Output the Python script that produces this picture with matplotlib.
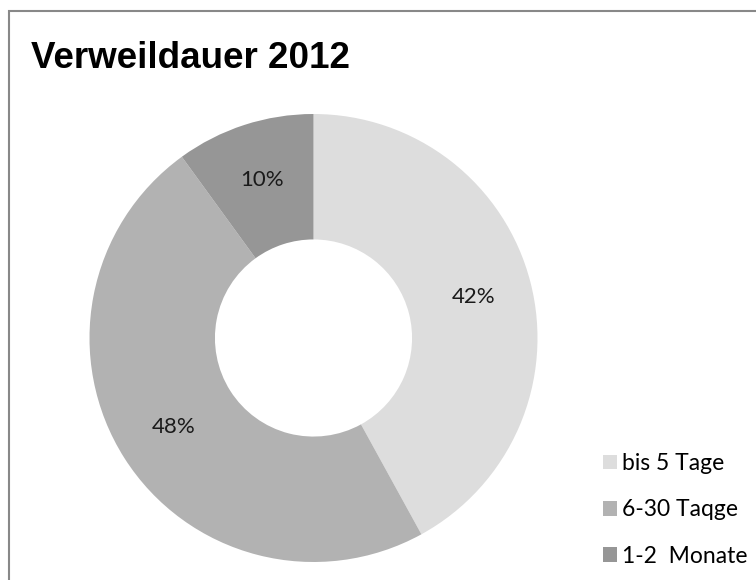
import matplotlib.pyplot as plt
from matplotlib.patches import Rectangle

# data
categories = ['bis 5 Tage', '6-30 Taqge', '1-2  Monate']
shares = [42, 48, 10]
colors = ['#dddddd', '#b2b2b2', '#969696']

fig = plt.figure(figsize=(7.56, 5.80), dpi=100)

# chart frame
fig.patches.append(Rectangle((9 / 756, -0.1), 1.1, 1 - 11 / 580 + 0.1, transform=fig.transFigure,
                             fill=False, edgecolor='#888888', linewidth=1.5))

# donut axes (center / radius in pixels)
cx, cy, R = 313.5 / 756, 1 - 338 / 580, 224
ax = fig.add_axes([cx - R / 756, cy - R / 580, 2 * R / 756, 2 * R / 580])
wedges, texts, autotexts = ax.pie(shares, colors=colors, startangle=90, counterclock=False,
                                  radius=1, autopct='%1.0f%%', pctdistance=0.74,
                                  wedgeprops=dict(width=0.56, edgecolor='none'),
                                  textprops=dict(fontsize=16, family='Lato', color='#1a1a1a'))
ax.set_xlim(-1, 1)
ax.set_ylim(-1, 1)
ax.axis('off')

fig.text(31 / 756, 1 - 58 / 580, 'Verweildauer 2012', fontsize=26.5, fontweight='bold',
         family='Liberation Sans', va='center', ha='left')

# legend
handles = [Rectangle((0, 0), 1, 1, facecolor=c, edgecolor='none') for c in colors]
fig.legend(handles, categories, loc='center left', bbox_to_anchor=(594 / 756, 1 - 510 / 580),
           frameon=False, borderaxespad=0, prop={'family': 'Lato', 'size': 16.5},
           handlelength=0.6, handleheight=0.6, handletextpad=0.2, labelspacing=1.1)

fig.savefig('out.png', dpi=100)
